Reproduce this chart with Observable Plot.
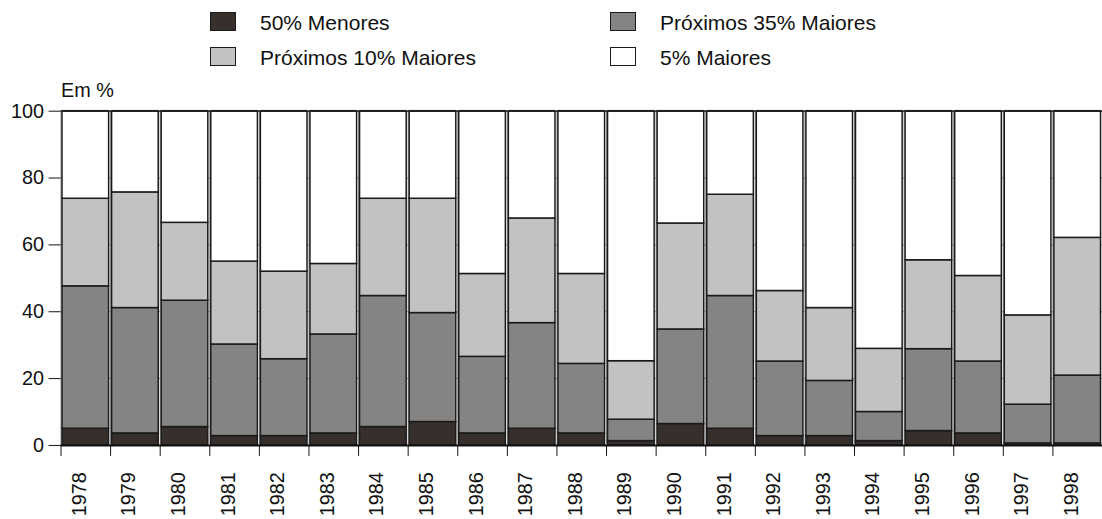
<!DOCTYPE html>
<html>
<head>
<meta charset="utf-8">
<script src="https://cdn.jsdelivr.net/npm/d3@7"></script>
<script src="https://cdn.jsdelivr.net/npm/@observablehq/plot@0.6"></script>
<style>
  html, body { margin: 0; padding: 0; background: #fff; overflow: hidden; width: 1102px; height: 519px; }
  body { font-family: "Liberation Sans", Arial, sans-serif; color: #111; position: relative; }
  #legend { position: relative; height: 72px; width: 1102px; }
  .sw { position: absolute; width: 24px; height: 17px; border: 1.5px solid #1a1a1a; }
  .lb { position: absolute; font-size: 21px; line-height: 24px; white-space: nowrap; }
  #chart svg { display: block; }
</style>
</head>
<body>
<div id="legend"></div>
<div id="chart"></div>
<script>
const years = [1978,1979,1980,1981,1982,1983,1984,1985,1986,1987,1988,1989,1990,1991,1992,1993,1994,1995,1996,1997,1998];
const groups = ["50% Menores", "Próximos 35% Maiores", "Próximos 10% Maiores", "5% Maiores"];
const colors = ["#372f2c", "#858483", "#c2c2c1", "#ffffff"];
const menores50 = [5.0,3.6,5.5,2.8,2.8,3.6,5.5,7.0,3.6,5.0,3.6,1.3,6.4,5.0,2.8,2.8,1.3,4.3,3.6,0.6,0.6];
const proximos35 = [42.6,37.5,37.8,27.4,23.0,29.6,39.2,32.6,22.9,31.6,20.8,6.4,28.3,39.7,22.3,16.5,8.7,24.5,21.5,11.6,20.3];
const proximos10 = [26.2,34.6,23.3,24.8,26.2,21.1,29.1,34.2,24.8,31.3,26.9,17.5,31.7,30.3,21.1,21.8,18.9,26.6,25.6,26.7,41.2];
const maiores5 = [26.2,24.3,33.4,45.0,48.0,45.7,26.2,26.2,48.7,32.1,48.7,74.8,33.6,25.0,53.8,58.9,71.1,44.6,49.3,61.1,37.9];
const yTicks = [0,20,40,60,80,100];
const yLabel = "Em %";

const series = [menores50, proximos35, proximos10, maiores5];
const rows = [];
years.forEach((yr, i) => {
  let acc = 0;
  series.forEach((s, k) => {
    rows.push({year: yr, yearEnd: yr + 1, group: groups[k], y1: acc, y2: acc + s[i]});
    acc += s[i];
  });
});

// legend
const legend = document.getElementById("legend");
const legendOrder = [[0, 210, 11], [1, 610, 11], [2, 210, 46], [3, 610, 46]];
legendOrder.forEach(([k, left, top]) => {
  const sw = document.createElement("div");
  sw.className = "sw";
  sw.style.left = left + "px";
  sw.style.top = (top + 1) + "px";
  sw.style.background = colors[k];
  legend.appendChild(sw);
  const lb = document.createElement("div");
  lb.className = "lb";
  lb.style.left = (left + 50) + "px";
  lb.style.top = top + "px";
  lb.textContent = groups[k];
  legend.appendChild(lb);
});

const chart = Plot.plot({
  width: 1111,
  height: 447,
  marginLeft: 61,
  marginRight: 0,
  marginTop: 39,
  marginBottom: 71,
  x: {type: "linear", domain: [years[0], years[years.length - 1] + 1], axis: null},
  y: {domain: [0, 100], axis: null},
  color: {domain: groups, range: colors},
  style: {fontFamily: "'Liberation Sans', Arial, sans-serif", fontSize: "20px", color: "#111", background: "#fff"},
  marks: [
    Plot.gridY(yTicks.slice(1, -1), {stroke: "#8a8a8a", strokeOpacity: 1}),
    Plot.gridX(years, {stroke: "#8a8a8a", strokeOpacity: 1}),
    Plot.rect(rows, {x1: "year", x2: "yearEnd", y1: "y1", y2: "y2", fill: "group", stroke: "#1a1a1a", strokeWidth: 1.5, insetLeft: 1.5, insetRight: 1.5}),
    Plot.ruleY([100], {stroke: "#222", strokeWidth: 1.5}),
    Plot.ruleY([0], {stroke: "#111", strokeWidth: 2}),
    Plot.axisY({ticks: yTicks, tickSize: 12, tickPadding: 5, label: null, fontSize: 20}),
    Plot.axisX({ticks: years, tickSize: 11, tickFormat: () => "", label: null}),
    Plot.text(years, {x: d => d + 0.5, frameAnchor: "bottom", rotate: -90, textAnchor: "end", dy: 27, fontSize: 20, text: d => String(d)}),
    Plot.text([yLabel], {frameAnchor: "top-left", textAnchor: "start", lineAnchor: "bottom", dy: -14, fontSize: 20})
  ]
});
document.getElementById("chart").appendChild(chart);
</script>
</body>
</html>
